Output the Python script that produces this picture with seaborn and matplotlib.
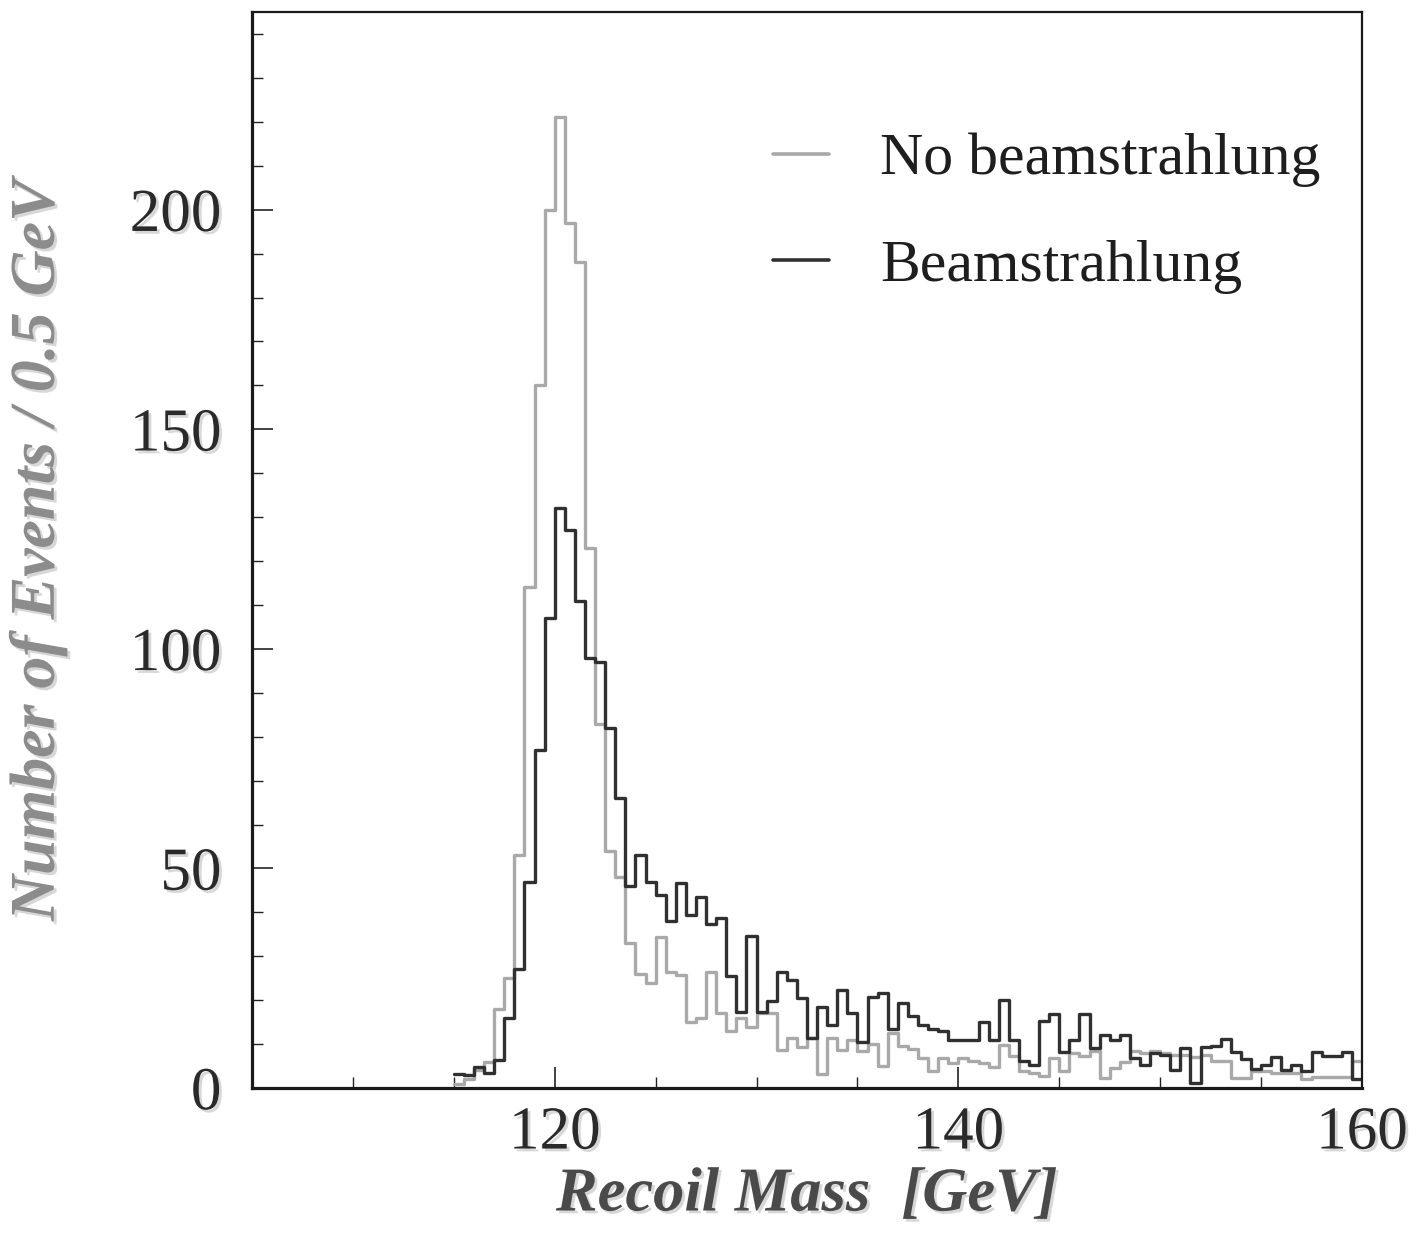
import numpy as np
import pandas as pd
import matplotlib
matplotlib.use("Agg")
import matplotlib.pyplot as plt
import matplotlib.patheffects as pe
from matplotlib.lines import Line2D
from matplotlib.ticker import MultipleLocator
import seaborn as sns

# Recoil-mass histograms, 0.5 GeV bins starting at 115 GeV
bin_low = 115.0
bin_width = 0.5

no_beamstrahlung = [
    1, 2, 4, 6, 18, 25, 53, 114, 160, 200,            # 115.0 - 119.5
    221, 197, 188, 123, 83, 54, 48, 33, 26, 24,       # 120.0 - 124.5
    34.5, 26.5, 25.7, 15, 16, 26.5, 17, 13, 16, 14,   # 125.0 - 129.5
    17, 17, 8.7, 11.3, 9.4, 11.3, 3.3, 11.3, 8.7, 10.9,  # 130.0 - 134.5
    8.5, 10, 5, 12.6, 9.6, 8.8, 6.9, 3.9, 6.8, 5.8,   # 135.0 - 139.5
    6.8, 6.1, 5.7, 4.8, 9.9, 7.2, 3.8, 3.4, 2.7, 6.8, # 140.0 - 144.5
    3.8, 8.0, 7.2, 8.4, 2.3, 4.6, 6, 8.4, 8, 8.5,     # 145.0 - 149.5
    8, 7.5, 7.5, 7, 7.5, 6.1, 6.1, 2.3, 2.3, 3.8,     # 150.0 - 154.5
    3.8, 3.5, 3.5, 3.5, 2.0, 2.5, 2.5, 2.5, 2.5, 6.2, # 155.0 - 159.5
]

beamstrahlung = [
    3.3, 3, 4.7, 3.5, 6.4, 16, 27, 47, 77, 107,            # 115.0 - 119.5
    132, 127, 111, 98, 97, 82, 66, 46, 53, 47,             # 120.0 - 124.5
    44, 38, 46.6, 39.4, 43.6, 37.4, 38.6, 25.4, 17.4, 34.6,  # 125.0 - 129.5
    17.4, 19.7, 26.5, 24.6, 20.4, 11.3, 18.5, 14.4, 22.3, 17,  # 130.0 - 134.5
    10.5, 20.8, 21.7, 13.4, 19.4, 16.4, 14.4, 13.4, 13, 11,  # 135.0 - 139.5
    11, 11, 15, 11, 20.1, 11, 6.1, 5.3, 15.2, 16.9,        # 140.0 - 144.5
    8.1, 11, 16.9, 9.1, 12.1, 11, 12.1, 6.8, 5.3, 8.0,     # 145.0 - 149.5
    7.5, 4.0, 9.1, 1.1, 9.3, 9.6, 11.2, 8.2, 6.5, 4.3,     # 150.0 - 154.5
    5.3, 7.0, 4.1, 5.2, 3.8, 8.2, 7.2, 7.2, 8.2, 2.0,      # 155.0 - 159.5
]

series_labels = ["No beamstrahlung", "Beamstrahlung"]
series_colors = ["#a9a9a9", "#303030"]
x_ticks = [120, 140, 160]
y_ticks = [0, 50, 100, 150, 200]

n_bins = len(beamstrahlung)
bin_high = bin_low + bin_width * n_bins
centers = bin_low + bin_width * (np.arange(n_bins) + 0.5)

frames = []
for label, counts in zip(series_labels, [no_beamstrahlung, beamstrahlung]):
    frames.append(pd.DataFrame({"mass": centers, "events": np.asarray(counts, float),
                                "sample": label}))
df = pd.concat(frames, ignore_index=True)

sns.set_theme(style="ticks")
plt.rcParams["font.family"] = ["Liberation Serif", "DejaVu Serif"]
plt.rcParams["axes.edgecolor"] = "#1a1a1a"

fig = plt.figure(figsize=(14.28, 12.47), dpi=100)
ax = fig.add_axes([0.1765, 0.1275, 0.7773, 0.8628])

for label, color in zip(series_labels, series_colors):
    sub = df[df["sample"] == label].reset_index(drop=True)
    sns.histplot(data=sub, x="mass", weights="events",
                 binwidth=bin_width, binrange=(bin_low, bin_high),
                 element="step", fill=False, color=color,
                 linewidth=2.4, ax=ax, legend=False)

ax.set_xlim(105, 160)
ax.set_ylim(0, 245)

ax.set_xticks(x_ticks)
ax.xaxis.set_minor_locator(MultipleLocator(5))
ax.set_yticks(y_ticks)
ax.yaxis.set_minor_locator(MultipleLocator(10))

ax.tick_params(axis="both", which="major", direction="in", length=15, width=1.2,
               color="#222222", labelsize=44, labelcolor="#2a2a2a")
ax.tick_params(axis="both", which="minor", direction="in", length=8, width=1.0,
               color="#222222")
ax.tick_params(axis="x", which="major", pad=13)
ax.tick_params(axis="y", which="major", pad=22)

for side in ["left", "bottom"]:
    ax.spines[side].set_linewidth(2.3)
for side in ["top", "right"]:
    ax.spines[side].set_linewidth(1.6)

shadow = [pe.withSimplePatchShadow(offset=(2, -2), shadow_rgbFace="#bdbdbd", alpha=0.6)]
for lab in ax.get_xticklabels() + ax.get_yticklabels():
    lab.set_path_effects(shadow)

ax.set_xlabel("Recoil Mass  [GeV]", fontsize=45, fontweight="bold", fontstyle="italic",
              color="#4a4a4a", path_effects=shadow)
ax.set_ylabel("Number of Events / 0.5 GeV", fontsize=46, fontweight="bold",
              fontstyle="italic", color="#8c8c8c", path_effects=shadow)
ax.yaxis.set_label_coords(-0.166, 0.5)
ax.xaxis.set_label_coords(0.5, -0.073)

handles = [Line2D([0], [0], color=c, linewidth=2.6) for c in series_colors]
ax.legend(handles, series_labels, loc="upper left", bbox_to_anchor=(0.469, 0.888),
          frameon=False, fontsize=43, handlelength=0.95, handletextpad=0.85,
          labelspacing=0.86, borderpad=0, borderaxespad=0, labelcolor="#1e1e1e")

fig.savefig("out.png", dpi=100, facecolor="white")
